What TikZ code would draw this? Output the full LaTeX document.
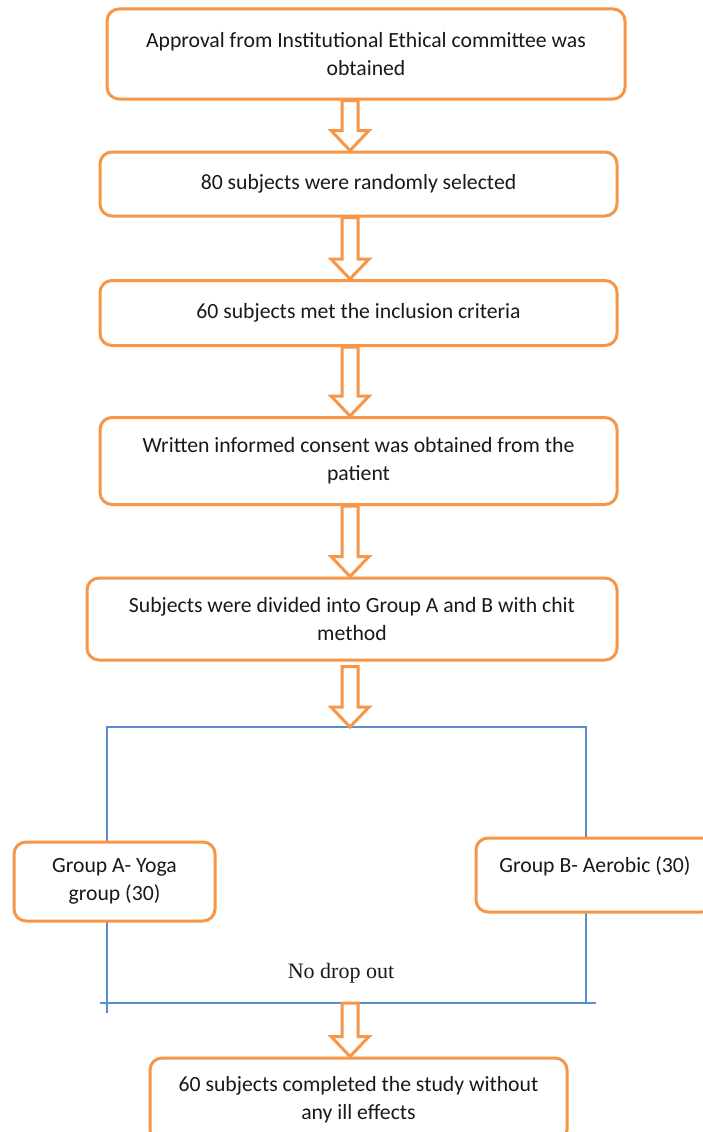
\documentclass[tikz,border=0pt]{standalone}
\usepackage{fontspec}
\setmainfont{Carlito}
\newfontfamily\timesfont{Liberation Serif}
\usetikzlibrary{calc, positioning}

\definecolor{boxorange}{RGB}{247,150,70}
\definecolor{lineblue}{RGB}{91,140,205}
\definecolor{inkgray}{RGB}{25,25,25}

\tikzset{
	stepbox/.style={draw=boxorange, line width=3pt, rounded corners=12pt, fill=white, align=center,
		text=inkgray, font=\fontsize{21.7}{28}\selectfont, inner sep=0pt},
	bluelink/.style={draw=lineblue, line width=1.5pt},
	hollow/.style={draw=boxorange, line width=3pt, fill=white, line join=miter}
}

% hollow block arrow from #1 down to #2
\newcommand{\blockdown}[2]{
	\draw[hollow] let \p1=#1, \p2=#2 in
		(\x1-8pt,\y1) -- (\x1-8pt,\y2+20pt) -- (\x1-19pt,\y2+20pt) -- (\x1,\y2)
		-- (\x1+19pt,\y2+20pt) -- (\x1+8pt,\y2+20pt) -- (\x1+8pt,\y1) -- cycle;
}

\begin{document}
\begin{tikzpicture}[x=1pt, y=-1pt]
	\clip (0,0) rectangle (703,1132);
	\fill[white] (0,0) rectangle (703,1132);

	\coordinate (ax) at (350,0);
	\coordinate (split) at (350,727);
	\coordinate (join) at (350,1003);

	% blue frame round the two groups
	\coordinate (tl) at (107,727);
	\coordinate (tr) at (586,727);
	\draw[bluelink] (107,1013) -- (tl) -- (tr) -- (586,1003);
	\draw[bluelink] (100,1003) -- (596,1003);

	\node[stepbox, minimum width=518pt, minimum height=90pt] (ethics) at (366,54)
		{Approval from Institutional Ethical committee was\\obtained};
	\node[stepbox, minimum width=517pt, minimum height=64pt] (random) at (358.5,184)
		{80 subjects were randomly selected};
	\node[stepbox, minimum width=517pt, minimum height=65pt] (criteria) at (358.5,313)
		{60 subjects met the inclusion criteria};
	\node[stepbox, minimum width=517pt, minimum height=87pt] (consent) at (358.5,461)
		{Written informed consent was obtained from the\\patient};
	\node[stepbox, minimum width=530pt, minimum height=82pt] (divide) at (352,619)
		{Subjects were divided into Group A and B with chit\\method};

	\node[stepbox, minimum width=201pt, minimum height=79pt] (yoga) at (114.5,881.5)
		{Group A- Yoga\\group (30)};
	\node[stepbox, minimum width=238pt, minimum height=74pt, text depth=20pt] (aerobic) at (595,875)
		{Group B- Aerobic (30)};

	\node[font=\timesfont\fontsize{22}{26}\selectfont, text=inkgray] (nodrop) at (341,973) {No drop out};

	\node[stepbox, minimum width=417pt, minimum height=84pt] (done) at (358.5,1100)
		{60 subjects completed the study without\\any ill effects};

	\blockdown{(ethics.south -| ax)}{(random.north -| ax)}
	\blockdown{(random.south -| ax)}{(criteria.north -| ax)}
	\blockdown{(criteria.south -| ax)}{(consent.north -| ax)}
	\blockdown{(consent.south -| ax)}{(divide.north -| ax)}
	\blockdown{($(divide.south -| ax)+(0,5)$)}{(split)}
	\blockdown{(join)}{(done.north -| ax)}
\end{tikzpicture}
\end{document}
